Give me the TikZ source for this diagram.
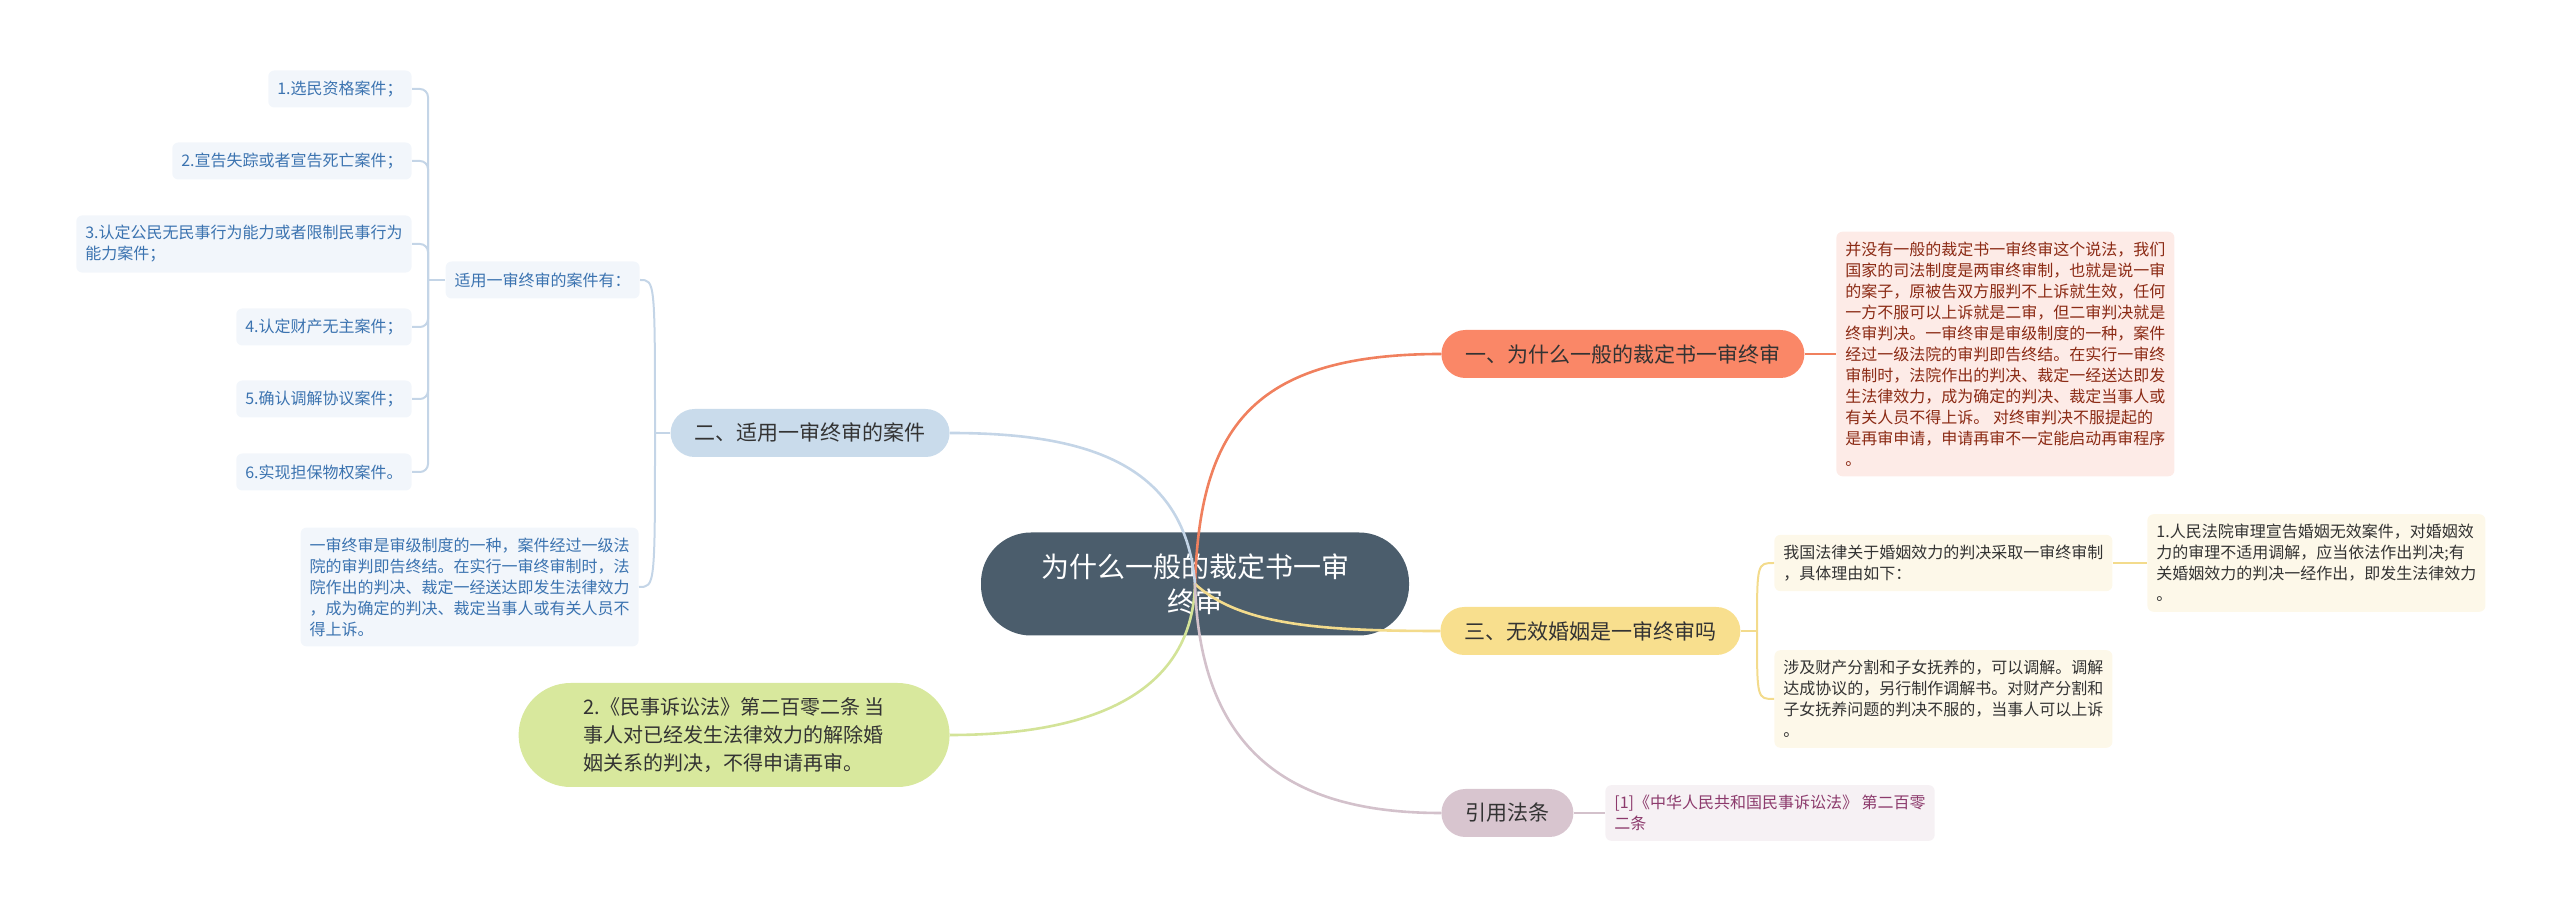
\documentclass[tikz,border=0pt]{standalone}
\usepackage{fontspec}
\setmainfont{Noto Sans CJK SC}
\definecolor{rootgray}{HTML}{4B5D6C}
\definecolor{salmon}{HTML}{FA8767}
\definecolor{salmonline}{HTML}{F0805E}
\definecolor{paleblue}{HTML}{C9DBEB}
\definecolor{paleblueline}{HTML}{C4D5E7}
\definecolor{butter}{HTML}{F8DF8E}
\definecolor{butterline}{HTML}{F3DB8C}
\definecolor{mauve}{HTML}{D8C5CF}
\definecolor{mauveline}{HTML}{D3C1CB}
\definecolor{lime}{HTML}{D8E89D}
\definecolor{limeline}{HTML}{D3E398}
\definecolor{leaffill}{HTML}{F2F6FB}
\definecolor{leaftext}{HTML}{3B73B0}
\definecolor{pinkfill}{HTML}{FDEBE7}
\definecolor{pinktext}{HTML}{8B2A14}
\definecolor{creamfill}{HTML}{FDF8E9}
\definecolor{darktext}{HTML}{333333}
\definecolor{citefill}{HTML}{F6F1F4}
\definecolor{citetext}{HTML}{8C3A6C}

\begin{document}
\begin{tikzpicture}[x=0.5pt, y=-0.5pt,
    rootnode/.style={fill=rootgray, text=white, rounded corners=25pt, minimum width=214pt,
      minimum height=51.5pt, align=center, font=\fontsize{14}{17.5}\selectfont},
    branch/.style={rounded corners=12pt, minimum height=24pt, inner xsep=12pt, text=darktext,
      font=\fontsize{10.5}{12}\selectfont},
    leaf/.style={fill=leaffill, text=leaftext, rounded corners=3pt, inner xsep=4.5pt, inner ysep=5pt,
      minimum height=18.5pt, align=left, font=\fontsize{8}{10.5}\selectfont},
    note/.style={rounded corners=3pt, inner xsep=4.5pt, inner ysep=5pt,
      minimum height=18.5pt, align=left, font=\fontsize{8}{10.5}\selectfont},
    lawnode/.style={fill=lime, text=darktext, rounded corners=26pt, minimum width=215.5pt,
      minimum height=52pt, align=left, font=\fontsize{10}{14}\selectfont},
    link/.style={line width=1.3pt},
    bracket/.style={line width=1pt}]
\useasboundingbox (0,0) rectangle (2560,913);
   %root
   \node[rootnode] (root) at (1195,584) {为什么一般的裁定书一审\\终审};

   %branch 1
   \node[branch, fill=salmon, anchor=west] (why) at (1441,354) {一、为什么一般的裁定书一审终审};
   \node[note, fill=pinkfill, text=pinktext, anchor=west] (whynote) at (1836,354)
     {并没有一般的裁定书一审终审这个说法，我们\\国家的司法制度是两审终审制，也就是说一审\\的案子，原被告双方服判不上诉就生效，任何\\一方不服可以上诉就是二审，但二审判决就是\\终审判决。一审终审是审级制度的一种，案件\\经过一级法院的审判即告终结。在实行一审终\\审制时，法院作出的判决、裁定一经送达即发\\生法律效力，成为确定的判决、裁定当事人或\\有关人员不得上诉。 对终审判决不服提起的\\是再审申请，申请再审不一定能启动再审程序\\。};

   %branch 2
   \node[branch, fill=paleblue, anchor=east] (cases) at (950,433) {二、适用一审终审的案件};
   \node[leaf, anchor=east] (caselist) at (640,280) {适用一审终审的案件有：};
   \node[leaf, anchor=east] (case1) at (412,89) {1.选民资格案件；};
   \node[leaf, anchor=east] (case2) at (412,161) {2.宣告失踪或者宣告死亡案件；};
   \node[leaf, anchor=east] (case3) at (412,244) {3.认定公民无民事行为能力或者限制民事行为\\能力案件；};
   \node[leaf, anchor=east] (case4) at (412,327) {4.认定财产无主案件；};
   \node[leaf, anchor=east] (case5) at (412,399) {5.确认调解协议案件；};
   \node[leaf, anchor=east] (case6) at (412,472) {6.实现担保物权案件。};
   \node[leaf, anchor=east] (casedef) at (639,587)
     {一审终审是审级制度的一种，案件经过一级法\\院的审判即告终结。在实行一审终审制时，法\\院作出的判决、裁定一经送达即发生法律效力\\，成为确定的判决、裁定当事人或有关人员不\\得上诉。};

   %law article
   \node[lawnode, anchor=east] (law) at (950,735)
     {2.《民事诉讼法》第二百零二条 当\\事人对已经发生法律效力的解除婚\\姻关系的判决，不得申请再审。};

   %branch 3
   \node[branch, fill=butter, anchor=west] (invalid) at (1440,631) {三、无效婚姻是一审终审吗};
   \node[note, fill=creamfill, text=darktext, anchor=west] (reason) at (1774,563)
     {我国法律关于婚姻效力的判决采取一审终审制\\，具体理由如下：};
   \node[note, fill=creamfill, text=darktext, anchor=west] (mediate) at (1774,699)
     {涉及财产分割和子女抚养的，可以调解。调解\\达成协议的，另行制作调解书。对财产分割和\\子女抚养问题的判决不服的，当事人可以上诉\\。};
   \node[note, fill=creamfill, text=darktext, anchor=west] (reason1) at (2147,563)
     {1.人民法院审理宣告婚姻无效案件，对婚姻效\\力的审理不适用调解，应当依法作出判决;有\\关婚姻效力的判决一经作出，即发生法律效力\\。};

   %branch 4
   \node[branch, fill=mauve, anchor=west] (cite) at (1441,813) {引用法条};
   \node[note, fill=citefill, text=citetext, anchor=west] (citenote) at (1605,813)
     {[1]《中华人民共和国民事诉讼法》 第二百零\\二条};

   %links from root
   \draw[link, salmonline] (root.center) .. controls (1200,430) and (1250,354) .. (why.west);
   \draw[link, paleblueline] (root.center) .. controls (1185,460) and (1080,433) .. (cases.east);
   \draw[link, limeline] (root.center) .. controls (1192,700) and (1080,735) .. (law.east);
   \draw[link, butterline] (root.center) .. controls (1240,625) and (1320,631) .. (invalid.west);
   \draw[link, mauveline] (root.center) .. controls (1200,760) and (1300,813) .. (cite.west);

   %child links
   \draw[bracket, salmonline] (why.east) -- (whynote.west);
   \draw[bracket, mauveline] (cite.east) -- (citenote.west);
   \coordinate (casejoin) at (655,433);
   \draw[bracket, paleblueline] (cases.west) -- (casejoin);
   \draw[bracket, paleblueline] (casejoin) .. controls (655,280) .. (caselist.east);
   \draw[bracket, paleblueline] (casejoin) .. controls (655,587) .. (casedef.east);
   \coordinate (listjoin) at (428,280);
   \draw[bracket, paleblueline] (caselist.west) -- (listjoin);
   \foreach \c in {case1,case2,case3,case4,case5,case6}
     \draw[bracket, paleblueline, rounded corners=4pt] (listjoin) |- (\c.east);
   \coordinate (invalidjoin) at (1757,631);
   \draw[bracket, butterline] (invalid.east) -- (invalidjoin);
   \draw[bracket, butterline] (invalidjoin) .. controls (1757,563) .. (reason.west);
   \draw[bracket, butterline] (invalidjoin) .. controls (1757,699) .. (mediate.west);
   \draw[bracket, butterline] (reason.east) -- (reason1.west);
\end{tikzpicture}
\end{document}
